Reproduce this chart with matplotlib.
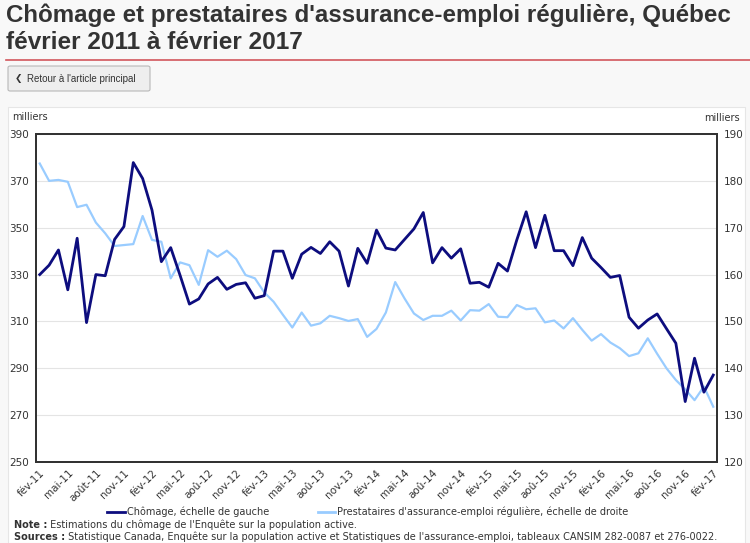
import matplotlib
matplotlib.use("Agg")
from matplotlib import pyplot as plt
from matplotlib.patches import Rectangle, FancyBboxPatch
import numpy as np

# données (milliers), février 2011 à février 2017
chomage = [330, 334, 340.5, 323.5, 345.5, 309.5, 330, 329.5, 345, 350.5,
           377.8, 371, 357.5, 335.5, 341.5, 329.7, 317.4, 319.6, 326, 328.8,
           323.7, 325.8, 326.5, 319.9, 321, 340, 340, 328.4, 338.7, 341.6,
           339, 344, 340, 325.1, 341.2, 334.8, 349, 341.3, 340.5, 345,
           349.5, 356.5, 335, 341.5, 337, 341, 326.3, 326.7, 324.6, 334.8,
           331.5, 344.8, 356.8, 341.5, 355.3, 340.2, 340.2, 333.8, 345.8, 337,
           333, 328.8, 329.6, 311.8, 307.1, 310.6, 313.2, 306.9, 300.7, 275.8,
           294.3, 279.8, 287.1]
prestataires = [183.7, 180, 180.2, 179.8, 174.4, 174.9, 171.1, 168.8, 166.1, 166.3,
                166.5, 172.5, 167.4, 167, 159.2, 162.6, 162, 157.8, 165.2, 163.8,
                165.1, 163.3, 159.9, 159.2, 156.2, 154.2, 151.4, 148.7, 151.9, 149.1,
                149.6, 151.2, 150.7, 150.1, 150.5, 146.7, 148.4, 151.9, 158.4, 154.9,
                151.7, 150.3, 151.2, 151.2, 152.3, 150.2, 152.4, 152.3, 153.7, 151,
                150.9, 153.5, 152.6, 152.8, 149.8, 150.2, 148.5, 150.7, 148.2, 145.9,
                147.3, 145.5, 144.3, 142.6, 143.2, 146.4, 143.1, 140, 137.5, 135.5,
                133.2, 136.1, 131.8]
mois = ["fév-11", "mai-11", "août-11", "nov-11", "fév-12", "mai-12", "aoû-12",
        "nov-12", "fév-13", "mai-13", "aoû-13", "nov-13", "fév-14", "mai-14",
        "aoû-14", "nov-14", "fév-15", "mai-15", "aoû-15", "nov-15", "fév-16",
        "mai-16", "aoû-16", "nov-16", "fév-17"]

W, H = 750, 543
fig = plt.figure(figsize=(7.5, 5.43), dpi=100, facecolor="#f8f8f8")

def fx(px):
    return px / W

def fy(py):
    return 1 - py / H

# titre
fig.text(fx(6), fy(22), "Chômage et prestataires d'assurance-emploi régulière, Québec",
         family="Liberation Sans", weight="bold", fontsize=17.4, color="#333333",
         va="baseline")
fig.text(fx(6), fy(49), "février 2011 à février 2017",
         family="Liberation Sans", weight="bold", fontsize=17.6, color="#333333",
         va="baseline")
fig.add_artist(plt.Line2D([fx(6), 1], [fy(60), fy(60)], color="#d2575c", lw=1.2))

# bouton
fig.add_artist(FancyBboxPatch((fx(8), fy(91)), fx(142), 25 / H,
                              boxstyle="round,pad=0,rounding_size=0.003",
                              facecolor="#eeeeee", edgecolor="#b8b8b8", lw=0.8))
fig.text(fx(15), fy(78.5), "❮", fontsize=6.5, color="#333333", va="center",
         family="DejaVu Sans")
fig.text(fx(27), fy(78.5), "Retour à l'article principal", fontsize=7,
         color="#333333", va="center", family="Liberation Sans")

# cadre du graphique
fig.add_artist(Rectangle((fx(8), 0), fx(737), fy(107), facecolor="white",
                         edgecolor="#e6e6e6", lw=0.8, zorder=-5))

ax = fig.add_axes([fx(36), fy(462), fx(681), 328 / H])
ax2 = ax.twinx()
x = np.arange(len(chomage))

ax.plot(x, chomage, color="#0d0d7e", lw=2, zorder=3)
ax2.plot(x, prestataires, color="#99ccff", lw=1.6, zorder=2)
ax.set_zorder(ax2.get_zorder() + 1)
ax.patch.set_visible(False)
ax2.patch.set_facecolor("white")

ax.set_ylim(250, 390)
ax.set_yticks(np.arange(250, 391, 20))
ax2.set_ylim(120, 190)
ax2.set_yticks(np.arange(120, 191, 10))
ax.set_xlim(-0.4, len(chomage) - 0.6)
ax.set_xticks(x[::3])
ax.set_xticklabels(mois, rotation=45, ha="right", rotation_mode="anchor")

ax2.grid(axis="y", color="#e4e4e4", lw=0.8)
ax2.set_axisbelow(True)

for a in (ax, ax2):
    for s in a.spines.values():
        s.set_color("#333333")
        s.set_linewidth(1.4)
    a.tick_params(length=0, labelsize=7.5, colors="#333333", pad=5)
ax.tick_params(axis="x", pad=4)

fig.text(fx(12), fy(117), "milliers", fontsize=7, color="#333333", va="center")
fig.text(fx(740), fy(118), "milliers", fontsize=7, color="#333333", va="center",
         ha="right")

# légende
h1, = ax.plot([], [], color="#0d0d7e", lw=2)
h2, = ax.plot([], [], color="#99ccff", lw=2)
fig.legend([h1, h2], ["Chômage, échelle de gauche",
                      "Prestataires d'assurance-emploi régulière, échelle de droite"],
           loc="center", bbox_to_anchor=(fx(368), fy(512)), ncol=2, frameon=False,
           fontsize=7, handlelength=1.8, handletextpad=0.2, columnspacing=5,
           labelcolor="#333333")

# notes
n1 = fig.text(fx(14), fy(528), "Note :", fontsize=7, weight="bold", color="#333333",
              va="baseline")
ax.annotate(" Estimations du chômage de l'Enquête sur la population active.",
            xy=(1, 0), xycoords=n1, fontsize=7, color="#333333", va="bottom",
            annotation_clip=False)
n2 = fig.text(fx(14), fy(540), "Sources :", fontsize=7, weight="bold", color="#333333",
              va="baseline")
ax.annotate(" Statistique Canada, Enquête sur la population active et Statistiques "
            "de l'assurance-emploi, tableaux CANSIM 282-0087 et 276-0022.",
            xy=(1, 0), xycoords=n2, fontsize=7, color="#333333", va="bottom",
            annotation_clip=False)

fig.savefig("out.png", dpi=100, facecolor=fig.get_facecolor())
